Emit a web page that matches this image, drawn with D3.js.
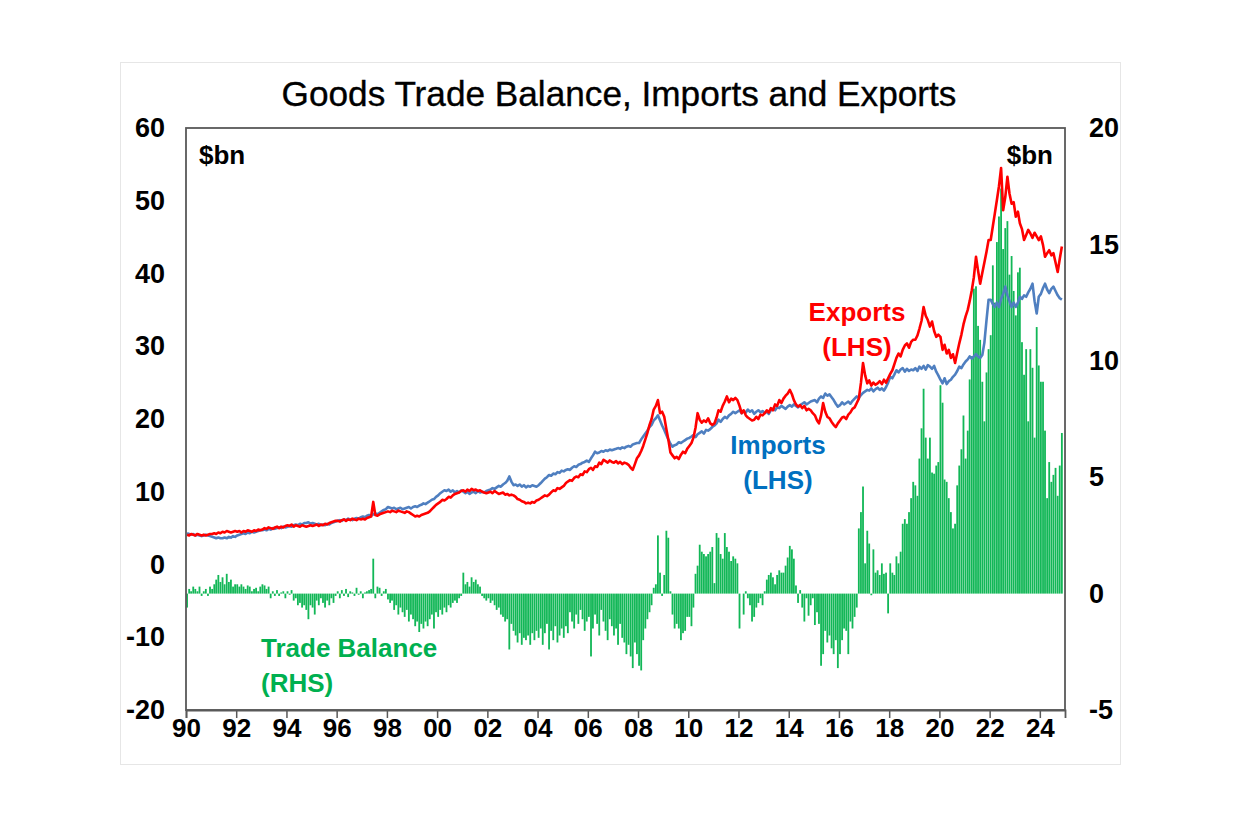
<!DOCTYPE html>
<html><head><meta charset="utf-8">
<script src="https://cdn.jsdelivr.net/npm/d3@7"></script>
<style>body{margin:0;background:#fff;} svg{display:block;} text{font-family:"Liberation Sans",Arial,sans-serif;}</style>
</head><body><svg id="chart" width="1249" height="832"></svg>
<script>
// Monthly data, Jan 1990 onwards ($bn)
const startYear = 1990;
const exportsData = [
 4.1,4.0,4.2,4.1,4.0,4.2,4.1,4.0,4.1,4.0,4.1,4.2,
 4.2,4.3,4.2,4.4,4.3,4.5,4.4,4.6,4.5,4.4,4.5,4.6,
 4.5,4.6,4.4,4.6,4.5,4.7,4.6,4.5,4.7,4.6,4.8,4.7,
 4.8,5.0,4.9,5.1,5.0,4.9,5.1,5.2,5.0,5.2,5.1,5.3,
 5.4,5.3,5.5,5.2,5.4,5.3,5.2,5.4,5.3,5.2,5.3,5.4,
 5.3,5.4,5.5,5.3,5.5,5.4,5.6,5.5,5.7,5.8,5.9,6.0,
 6.0,5.9,6.1,6.2,6.0,6.2,6.1,6.3,6.2,6.1,6.3,6.2,
 6.3,6.2,6.4,6.5,6.6,8.6,6.8,6.7,6.9,7.0,7.1,7.2,
 7.3,7.2,7.4,7.3,7.2,7.4,7.3,7.2,7.1,7.3,7.2,7.0,
 6.8,6.6,6.7,6.6,6.8,6.9,7.0,7.1,7.3,7.6,7.9,8.2,
 8.4,8.6,8.9,8.8,9.0,9.3,9.2,9.5,9.7,9.8,9.9,10.1,
 10.2,10.0,10.3,10.1,10.4,10.2,10.3,10.1,10.2,10.0,9.9,9.8,
 9.9,10.0,9.8,10.1,9.9,9.7,9.8,9.9,9.6,9.7,9.5,9.6,
 9.5,9.3,9.0,8.9,8.7,8.6,8.4,8.5,8.4,8.6,8.5,8.8,
 8.9,9.1,9.3,9.5,9.4,9.6,9.9,10.2,10.1,10.5,10.4,10.6,
 10.8,11.2,11.4,11.6,11.5,11.9,12.1,12.0,12.4,12.3,12.8,12.7,
 13.1,13.3,13.0,13.5,13.4,14.0,13.8,14.4,14.2,14.0,14.3,14.1,
 14.0,14.2,13.9,14.1,13.8,14.0,13.9,13.7,13.3,13.0,13.8,14.6,
 15.0,15.6,16.3,17.2,18.1,19.2,20.0,21.3,21.8,22.6,20.8,21.0,
 20.3,18.6,17.2,15.4,15.0,14.6,14.8,14.5,15.1,15.5,15.3,15.9,
 16.3,16.7,17.4,18.8,20.8,19.9,19.5,19.8,19.6,20.1,19.4,19.2,
 19.4,20.2,21.2,21.0,21.8,22.4,23.1,22.3,22.8,22.6,22.9,22.6,
 21.8,20.8,21.2,20.5,20.2,20.0,19.8,19.9,20.3,20.0,20.6,20.5,
 20.8,21.2,20.9,21.5,21.2,22.0,21.8,22.6,22.2,22.8,23.2,23.5,
 24.0,23.4,22.6,22.0,21.7,21.9,21.5,21.8,21.2,21.4,21.2,20.8,
 20.5,19.8,19.4,20.5,22.2,21.0,20.3,20.1,19.6,19.2,18.9,19.4,
 19.8,20.2,20.3,20.0,20.6,20.9,21.4,21.6,22.2,22.8,25.0,27.7,
 26.0,24.9,25.3,24.6,25.0,24.7,24.9,25.2,24.8,25.4,25.0,25.6,
 26.2,26.7,27.5,28.4,29.0,28.6,29.5,30.1,30.4,29.8,30.6,30.9,
 30.9,31.5,32.4,33.5,35.4,34.2,33.6,32.7,33.4,32.1,31.3,31.6,
 31.3,29.5,30.2,29.0,29.5,28.4,28.9,27.7,29.1,30.4,31.6,33.0,
 34.1,35.0,36.2,37.7,39.5,42.3,40.4,38.6,40.1,41.5,43.0,44.6,
 44.6,46.5,48.2,50.1,52.0,54.5,48.7,50.5,53.3,51.0,49.6,49.8,
 47.8,48.5,46.9,46.1,44.6,45.3,46.0,45.5,44.9,45.6,45.1,44.6,
 45.1,43.9,42.3,42.8,43.2,42.5,42.8,41.5,40.2,42.0,43.7
];
const importsData = [
 4.3,4.2,4.1,4.2,4.0,4.1,4.0,3.9,4.0,4.1,4.0,3.9,
 3.8,3.7,3.6,3.7,3.6,3.6,3.7,3.6,3.8,3.7,3.9,3.8,
 4.0,4.1,4.2,4.3,4.2,4.4,4.3,4.5,4.4,4.5,4.6,4.7,
 4.7,4.8,4.7,4.9,4.8,5.0,4.9,5.0,5.1,5.0,5.2,5.1,
 5.2,5.3,5.2,5.4,5.5,5.4,5.6,5.5,5.7,5.7,5.8,5.6,
 5.7,5.6,5.5,5.6,5.4,5.5,5.4,5.6,5.5,5.7,5.8,5.9,
 6.0,6.1,6.0,6.2,6.1,6.3,6.2,6.1,6.3,6.4,6.3,6.5,
 6.6,6.5,6.7,6.8,6.7,6.9,7.0,6.9,7.1,7.3,7.5,7.6,
 7.9,7.8,7.7,7.8,7.6,7.7,7.8,7.6,7.7,7.8,7.9,7.7,
 7.9,8.0,7.9,8.1,8.2,8.4,8.3,8.5,8.7,8.9,9.0,9.3,
 9.5,9.8,10.0,10.2,10.1,10.3,10.0,10.2,9.9,10.1,9.9,10.2,
 10.0,9.8,10.0,9.7,9.9,10.0,9.8,10.1,9.9,10.0,9.9,10.1,
 10.2,10.3,10.5,10.4,10.6,10.8,10.7,11.0,11.2,11.5,12.1,11.4,
 10.9,11.0,10.8,11.0,10.7,10.9,10.6,10.8,10.7,10.9,10.8,10.7,
 10.9,11.2,11.5,11.8,12.0,12.3,12.2,12.5,12.4,12.7,12.6,12.9,
 12.8,13.0,13.1,13.0,13.3,13.5,13.4,13.7,13.8,14.0,14.1,14.3,
 14.1,14.6,15.0,15.5,15.3,15.4,15.6,15.5,15.7,15.6,15.8,15.7,
 15.8,15.9,16.0,15.9,16.1,16.0,16.2,16.3,16.2,16.5,16.6,16.7,
 16.7,17.2,17.6,18.0,18.4,18.9,19.2,19.8,20.1,20.5,19.8,19.1,
 18.5,17.8,17.2,16.6,16.2,16.4,16.5,16.8,16.7,16.9,17.1,17.3,
 17.4,17.6,17.8,17.5,17.9,18.1,18.3,18.0,18.5,18.4,18.6,18.9,
 19.1,19.4,19.9,19.6,20.0,20.3,20.1,20.5,20.7,21.0,20.8,21.0,
 21.2,20.8,21.1,20.9,21.3,21.0,21.2,20.7,21.0,21.2,20.9,21.1,
 20.8,21.0,20.7,21.2,21.4,21.2,21.6,21.5,21.8,21.6,21.4,21.7,
 21.9,21.7,22.0,21.8,21.6,21.9,22.1,22.3,22.0,22.2,22.4,22.5,
 22.6,22.3,22.8,23.1,22.9,23.5,23.2,23.4,23.0,22.6,22.1,21.7,
 21.9,22.3,22.0,22.2,22.4,22.1,22.5,22.8,23.1,22.9,23.3,23.6,
 23.8,24.0,23.9,24.2,23.8,24.1,24.3,24.0,24.2,23.9,24.4,25.0,
 25.8,25.6,26.1,26.7,26.4,26.8,27.0,26.5,26.9,26.6,26.8,26.7,
 27.0,26.6,27.2,26.9,27.3,26.8,27.4,27.2,26.9,27.3,26.5,26.0,
 25.4,24.9,25.6,24.8,25.2,25.4,25.8,26.1,26.6,27.2,27.0,27.5,
 27.9,28.2,28.6,28.3,28.6,28.9,28.6,28.4,28.8,30.5,33.6,36.4,
 36.4,35.8,35.4,36.0,35.4,36.5,37.2,38.2,37.0,36.2,35.4,36.0,
 35.4,36.0,36.8,36.5,37.0,36.8,37.4,37.9,38.6,36.2,34.5,36.8,
 37.2,38.0,38.6,37.8,37.3,37.9,38.2,37.6,37.0,36.6,36.4
];
const balanceData = [
 -0.6,0.2,0.1,0.3,0.2,0.1,0.3,-0.1,0.1,0.2,-0.1,0.3,
 0.2,0.4,0.6,0.8,0.5,0.7,0.4,0.85,0.5,0.6,0.3,0.4,
 0.4,0.3,0.4,0.3,0.2,0.35,0.3,0.1,0.2,0.25,0.1,0.3,
 0.4,0.35,0.2,0.3,-0.2,0.1,-0.1,0.15,-0.1,0.05,0.1,-0.2,
 0.1,-0.05,0.15,-0.3,-0.2,-0.5,-0.4,-0.6,-0.5,-0.7,-1.1,-0.5,
 -0.6,-0.9,-0.3,-0.5,-0.2,-0.4,-0.6,-0.3,-0.5,-0.2,-0.4,-0.1,
 0.1,-0.2,0.15,-0.1,0.2,-0.15,0.1,0.05,-0.1,0.25,-0.05,0.1,
 -0.2,0.05,0.1,0.15,0.2,1.5,-0.2,0.3,0.25,-0.1,0.1,0.2,
 -0.25,-0.4,-0.3,-0.7,-0.5,-0.9,-0.6,-0.8,-1.0,-0.7,-1.2,-0.9,
 -1.1,-1.4,-1.2,-1.65,-1.3,-1.5,-1.2,-1.4,-1.1,-0.9,-1.5,-0.8,
 -1.0,-0.7,-0.9,-0.6,-0.8,-0.5,-0.6,-0.4,-0.3,-0.4,-0.2,-0.1,
 0.9,0.4,0.5,0.3,0.7,0.5,0.6,0.4,0.3,-0.1,-0.2,-0.3,
 -0.2,-0.4,-0.3,-0.5,-0.7,-0.6,-0.9,-1.0,-1.2,-1.1,-2.4,-1.3,
 -1.6,-1.8,-2.1,-1.7,-2.2,-1.9,-2.0,-1.8,-2.2,-1.7,-2.0,-1.6,
 -1.9,-1.5,-2.2,-1.7,-1.3,-2.4,-1.6,-2.0,-1.4,-2.1,-1.8,-1.5,
 -1.9,-1.4,-1.7,-0.8,-1.2,-1.5,-0.9,-1.3,-0.7,-1.1,-1.6,-1.2,
 -1.0,-2.7,-1.5,-0.9,-1.3,-1.8,-0.7,-1.2,-1.6,-2.0,-1.1,-1.4,
 -1.8,-1.5,-2.2,-1.3,-1.9,-2.1,-2.6,-2.2,-2.7,-3.2,-2.1,-2.6,
 -3.1,-3.3,-2.0,-1.5,-1.1,-0.8,-0.5,0.25,0.4,2.5,0.9,-0.1,
 0.8,2.7,2.4,0.1,-0.9,-1.5,-1.3,-1.5,-2.0,-1.7,-1.6,-1.0,
 -1.0,-1.4,-0.6,0.85,1.2,2.1,1.8,1.7,1.6,1.7,1.8,2.0,
 0.45,2.6,2.4,1.7,1.5,2.6,2.0,1.8,1.4,1.6,1.5,1.3,
 -1.5,0.0,-0.9,0.1,-0.2,-0.5,-1.2,-1.0,-0.6,-0.4,-0.2,-0.5,
 0.1,0.6,0.8,0.9,0.7,0.4,0.8,1.0,0.9,0.9,1.2,1.55,
 2.05,1.9,1.5,0.35,-0.4,0.15,-0.6,-1.2,-0.2,-0.95,-0.5,-0.2,
 -1.35,-0.8,-1.3,-3.1,-2.6,-1.6,-2.1,-1.8,-2.35,-2.6,-2.0,-3.2,
 -2.6,-2.0,-1.5,-1.6,-2.6,-1.2,-1.5,-1.0,-0.6,2.8,3.5,4.6,
 1.3,2.7,2.15,-0.07,1.9,0.9,1.0,0.8,1.3,0.85,0.9,-0.85,
 1.3,0.9,0.8,1.6,1.3,1.8,3.0,3.2,3.0,3.5,4.1,4.8,
 4.65,4.2,5.8,7.1,8.8,6.7,5.8,6.7,5.2,5.15,5.5,5.65,
 8.95,8.2,4.9,4.8,4.1,3.5,2.8,3.0,4.65,5.5,6.2,7.65,
 5.8,7.0,9.2,10.2,13.1,13.2,11.5,10.9,9.1,7.4,9.5,10.5,
 11.1,14.1,12.5,15.1,16.2,17.4,14.8,15.7,16.0,13.7,14.5,13.0,
 11.95,13.8,14.0,10.8,9.4,10.5,7.4,10.5,9.7,6.7,11.45,9.8,
 9.1,9.1,7.0,4.1,5.65,4.8,5.1,5.4,4.2,5.5,6.9
];
const xTickYears = d3.range(1990, 2025, 2);
const leftTicks = [-20, -10, 0, 10, 20, 30, 40, 50, 60];
const rightTicks = [-5, 0, 5, 10, 15, 20];

const svg = d3.select("#chart");
const box = {left: 186, right: 1065, top: 128, bottom: 710};
const monthDate = i => new Date(startYear, i, 1);

const x = d3.scaleTime().domain([new Date(1990, 0, 1), new Date(2025, 0, 1)]).range([box.left, box.right]);
const yL = d3.scaleLinear().domain([-20, 60]).range([box.bottom, box.top]);
const yR = d3.scaleLinear().domain([-5, 20]).range([box.bottom, box.top]);

// chart area frame
svg.append("rect").attr("x", 120.5).attr("y", 62.5).attr("width", 1000).attr("height", 702)
  .attr("fill", "#fff").attr("stroke", "#e6e6e6").attr("stroke-width", 1);

// title
svg.append("text").attr("x", 619).attr("y", 106).attr("text-anchor", "middle")
  .attr("font-size", 35.2).attr("fill", "#000").attr("stroke", "#000").attr("stroke-width", 0.35)
  .text("Goods Trade Balance, Imports and Exports");

// bars
const bw = x(monthDate(1)) - x(monthDate(0));
svg.append("g").selectAll("rect").data(balanceData).join("rect")
  .attr("x", (d, i) => x(monthDate(i)) + 0.15)
  .attr("width", bw * 0.85)
  .attr("y", d => Math.min(yR(d), yR(0)))
  .attr("height", d => Math.abs(yR(d) - yR(0)))
  .attr("fill", "#12b757");

// lines
const lineL = d3.line().x((d, i) => x(monthDate(i)) + bw / 2).y(d => yL(d));
svg.append("path").datum(importsData).attr("d", lineL).attr("fill", "none")
  .attr("stroke", "#4f7fc0").attr("stroke-width", 2.6).attr("stroke-linejoin", "round");
svg.append("path").datum(exportsData).attr("d", lineL).attr("fill", "none")
  .attr("stroke", "#ff0000").attr("stroke-width", 2.6).attr("stroke-linejoin", "round");

// plot border
svg.append("rect").attr("x", box.left).attr("y", box.top)
  .attr("width", box.right - box.left).attr("height", box.bottom - box.top)
  .attr("fill", "none").attr("stroke", "#595959").attr("stroke-width", 1.8);

// axes
const fontTick = (g, fs) => g.selectAll("text").attr("font-size", fs).attr("font-weight", "bold")
  .attr("fill", "#000").attr("font-family", '"Liberation Sans", Arial, sans-serif');
const plain = d => String(d);

const gL = svg.append("g").attr("transform", `translate(${box.left},0)`)
  .call(d3.axisLeft(yL).tickValues(leftTicks).tickSize(0).tickPadding(21).tickFormat(plain));
gL.select(".domain").remove(); fontTick(gL, 27);

const gR = svg.append("g").attr("transform", `translate(${box.right},0)`)
  .call(d3.axisRight(yR).tickValues(rightTicks).tickSize(0).tickPadding(24).tickFormat(plain));
gR.select(".domain").remove(); fontTick(gR, 27);

const gX = svg.append("g").attr("transform", `translate(0,${box.bottom})`)
  .call(d3.axisBottom(x).tickValues(xTickYears.map(yv => new Date(yv, 0, 1)))
    .tickSize(8).tickPadding(1).tickFormat(d3.timeFormat("%y")));
gX.select(".domain").attr("stroke", "#595959").attr("stroke-width", 1.8);
gX.selectAll("line").attr("stroke", "#595959").attr("stroke-width", 1.5);
fontTick(gX, 26);

// unit labels
svg.append("text").attr("x", 199).attr("y", 164).attr("font-size", 26).attr("font-weight", "bold").text("$bn");
svg.append("text").attr("x", 1053).attr("y", 164).attr("text-anchor", "end").attr("font-size", 26).attr("font-weight", "bold").text("$bn");

// series labels
const lab = (lines, xx, yy, color, anchor) => {
  const t = svg.append("text").attr("font-size", 26).attr("font-weight", "bold").attr("fill", color)
    .attr("text-anchor", anchor);
  lines.forEach((s, k) => t.append("tspan").attr("x", xx).attr("y", yy + k * 35).text(s));
};
lab(["Exports", "(LHS)"], 857, 321, "#ff0000", "middle");
lab(["Imports", "(LHS)"], 778, 454, "#0070c0", "middle");
lab(["Trade Balance", "(RHS)"], 261, 657, "#00b050", "start");
</script></body></html>
